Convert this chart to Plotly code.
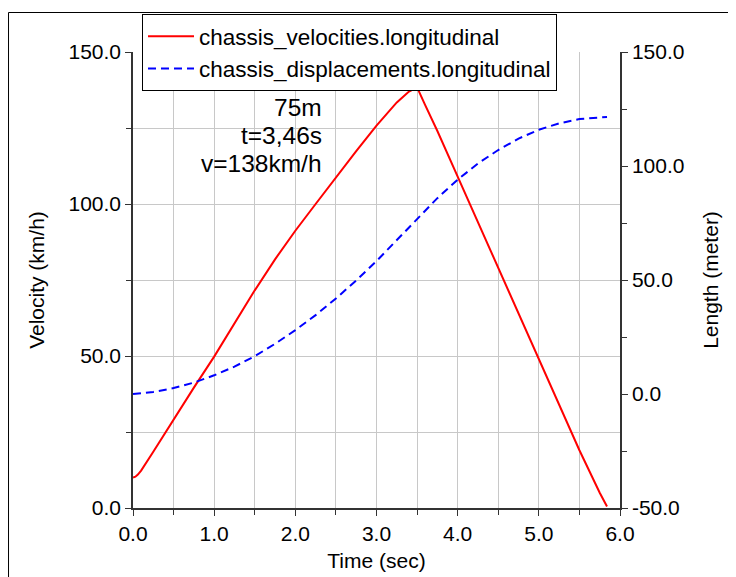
import plotly.graph_objects as go

# Time samples (s)
time_s = [0.0, 0.03, 0.06, 0.1, 0.25, 0.5, 0.75, 1.0, 1.25, 1.5, 1.75, 2.0, 2.25, 2.5, 2.75,
          3.0, 3.25, 3.4, 3.5, 3.6, 3.75, 4.0, 4.25, 4.5, 4.75, 5.0, 5.25, 5.5, 5.75, 5.84]
# chassis_velocities.longitudinal (km/h)
velocity_kmh = [10.0, 10.3, 11.0, 12.3, 18.5, 29.2, 39.6, 49.8, 60.8, 71.6, 81.8, 91.2, 100.0, 108.8, 117.4,
                125.8, 133.4, 137.0, 138.4, 132.5, 124.0, 109.0, 94.0, 78.5, 63.5, 48.5, 34.0, 19.0, 5.0, 0.5]
# chassis_displacements.longitudinal (m)
displacement_m = [0.0, 0.08, 0.17, 0.3, 0.9, 2.6, 5.0, 8.2, 12.0, 16.6, 22.0, 28.0, 34.6, 41.9, 49.8,
                  58.3, 67.3, 72.9, 76.7, 80.4, 85.9, 94.0, 101.1, 107.0, 112.0, 115.9, 118.7, 120.6, 121.4, 121.5]

# Right axis tick labels
length_tickvals = [-50, 0, 50, 100, 150]
length_ticktext = ["-50.0", "0.0", "50.0", "100.0", "150.0"]

annotation_lines = ["75m", "t=3,46s", "v=138km/h"]
annotation_y = [131.6, 122.4, 113.2]

FONT = "Liberation Sans, Arial, sans-serif"

fig = go.Figure()
fig.add_trace(go.Scatter(x=time_s, y=velocity_kmh, mode="lines",
                         name="chassis_velocities.longitudinal",
                         line=dict(color="#ff0000", width=2)))
fig.add_trace(go.Scatter(x=time_s, y=displacement_m, mode="lines", yaxis="y2",
                         name="chassis_displacements.longitudinal",
                         line=dict(color="#0000ff", width=2, dash="8px,5px")))

for txt, yy in zip(annotation_lines, annotation_y):
    fig.add_annotation(x=2.335, y=yy, xref="x", yref="y", text=txt, showarrow=False,
                       xanchor="right", yanchor="middle", borderpad=0,
                       font=dict(family=FONT, size=24.5, color="black"))

axis_common = dict(showline=True, linecolor="#333333", linewidth=1.5,
                   ticks="outside", ticklen=6, tickcolor="#333333",
                   tickfont=dict(family=FONT, size=21, color="black"),
                   zeroline=False)

fig.update_layout(
    width=728, height=569,
    margin=dict(l=125, r=116, t=44, b=69, autoexpand=False),
    paper_bgcolor="white", plot_bgcolor="white",
    font=dict(family=FONT, size=21, color="black"),
    showlegend=True,
    legend=dict(x=0.0185, y=1.083, xanchor="left", yanchor="top",
                bgcolor="white", bordercolor="black", borderwidth=1,
                font=dict(family=FONT, size=22.5), tracegroupgap=0,
                itemwidth=46),
    xaxis=dict(range=[0, 6], dtick=1, tick0=0, tickformat=".1f",
               showgrid=True, gridcolor="#c8c8c8",
               minor=dict(dtick=0.5, ticks="outside", ticklen=5, tickcolor="#333333",
                          showgrid=True, gridcolor="#c8c8c8"),
               title=dict(text="Time (sec)", font=dict(family=FONT, size=21), standoff=9),
               **axis_common),
    yaxis=dict(range=[0, 150], dtick=50, tick0=0, tickformat=".1f",
               showgrid=True, gridcolor="#c8c8c8",
               minor=dict(dtick=25, ticks="outside", ticklen=5, tickcolor="#333333",
                          showgrid=True, gridcolor="#c8c8c8"),
               title=dict(text="Velocity (km/h)", font=dict(family=FONT, size=21), standoff=18),
               **axis_common),
    yaxis2=dict(range=[-50, 150], tickmode="array", tickvals=length_tickvals,
                ticktext=length_ticktext, overlaying="y", side="right",
                showgrid=False,
                minor=dict(dtick=25, tick0=0, ticks="outside", ticklen=5, tickcolor="#333333",
                           showgrid=False),
                title=dict(text="Length (meter)", font=dict(family=FONT, size=21), standoff=20),
                **axis_common),
    shapes=[
        dict(type="line", xref="paper", yref="paper", x0=-0.2556, x1=1.3, y0=1.0866, y1=1.0866,
             line=dict(color="black", width=1)),
        dict(type="line", xref="paper", yref="paper", x0=-0.2556, x1=-0.2556, y0=-0.2, y1=1.0866,
             line=dict(color="black", width=1)),
    ],
)

fig.write_html("out.html")
